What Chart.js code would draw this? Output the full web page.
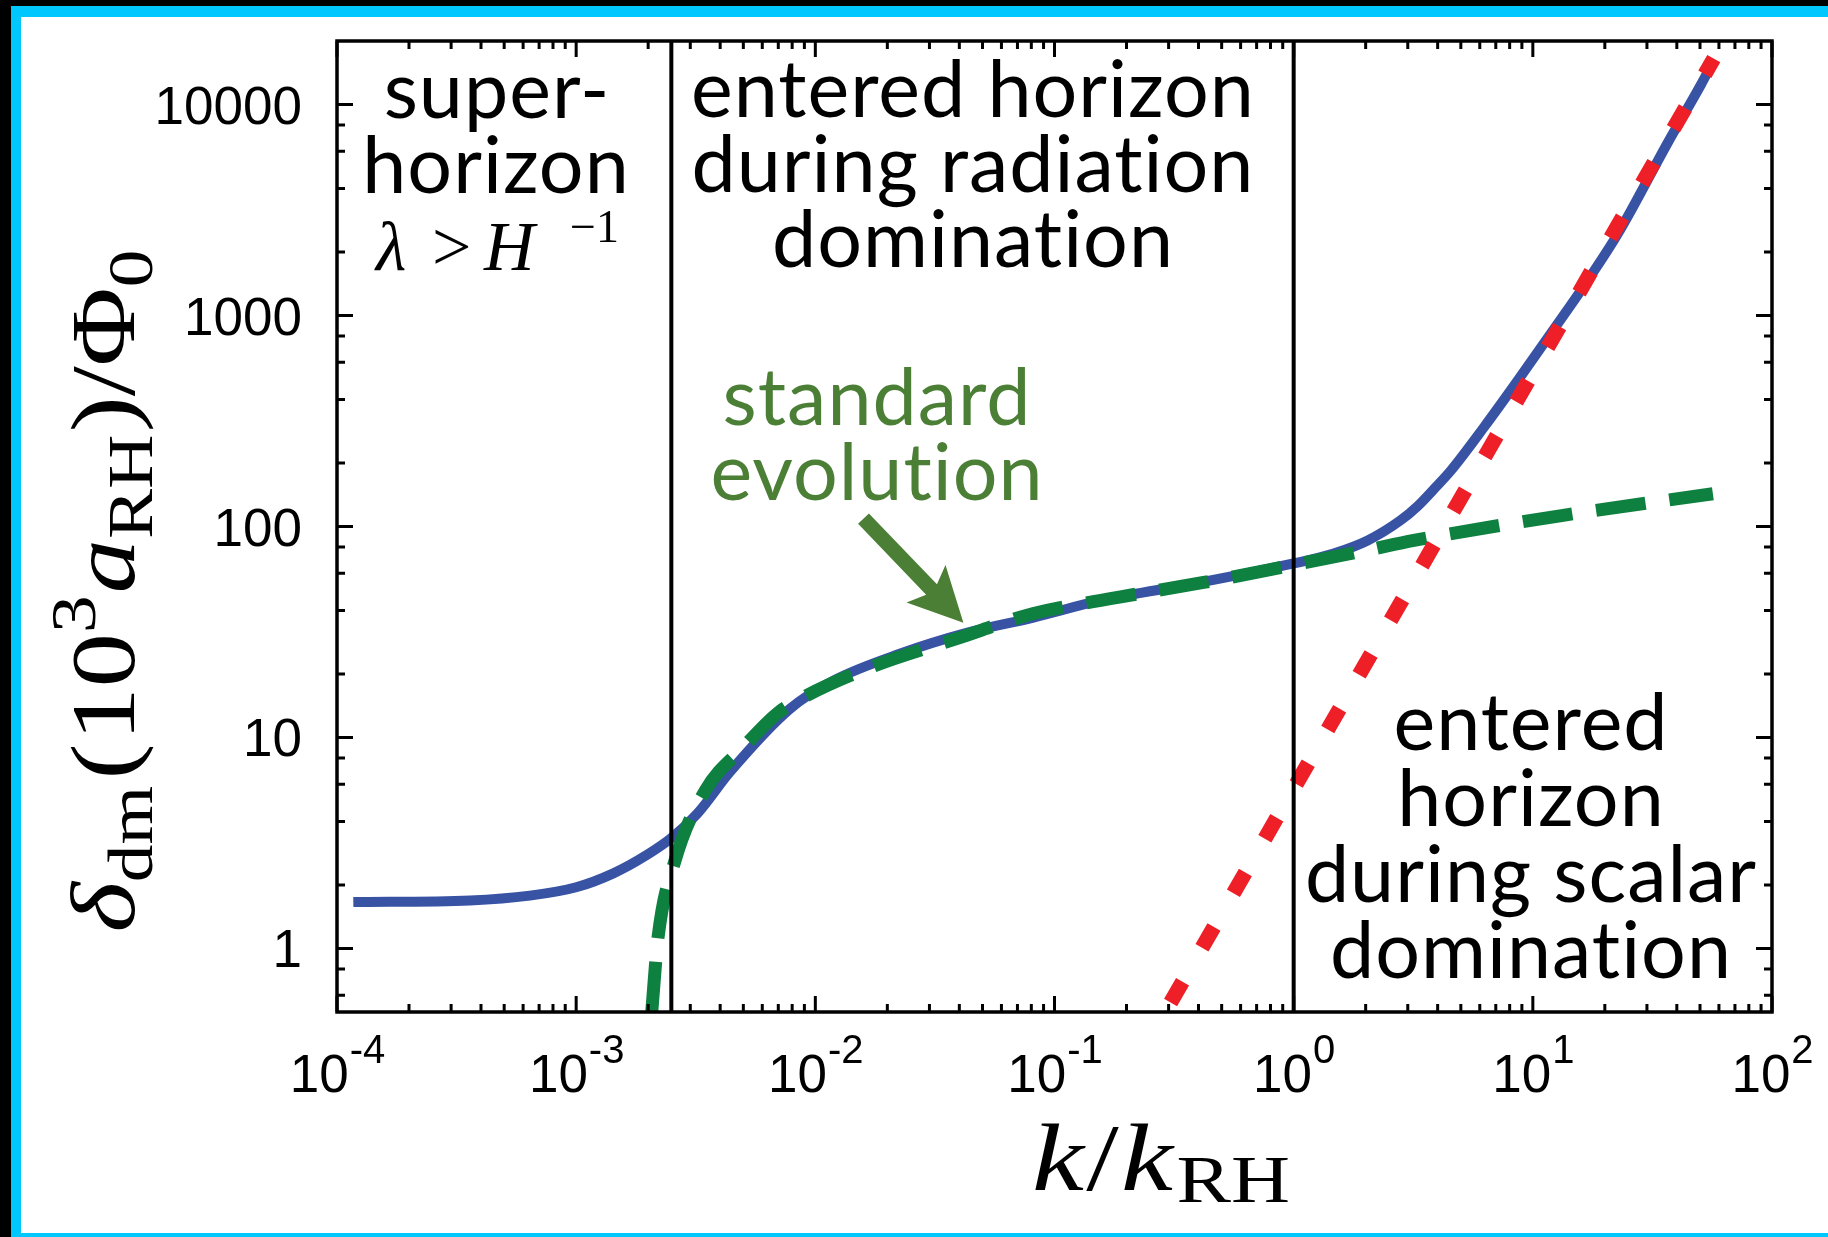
<!DOCTYPE html>
<html>
<head>
<meta charset="utf-8">
<style>
  html, body { margin: 0; padding: 0; background: #fff; overflow: hidden; }
  canvas { display: block; }
</style>
<script src="https://cdn.jsdelivr.net/npm/chart.js@4.4.1/dist/chart.umd.min.js"></script>
</head>
<body>
<canvas id="growth" width="1828" height="1237"></canvas>
<script>
// ---- data: dark-matter density contrast vs. wavenumber ----
const xRange = [1e-4, 1e2];
const yRange = [0.5, 20000];

// full evolution (solid blue)
const kFull = [1.17e-4, 3.6e-4, 6.4e-4, 1.0e-3, 1.43e-3, 1.98e-3, 2.52e-3, 3.21e-3, 4.41e-3, 7.85e-3,
  1.19e-2, 2.27e-2, 4.33e-2, 8.17e-2, 0.156, 0.408, 1.0, 1.47, 2.04, 2.80, 3.30, 3.85,
  4.54, 6.24, 8.65, 11.9, 16.3, 22.7, 36.7, 50.5, 57.1];
const deltaFull = [1.66, 1.69, 1.78, 1.95, 2.27, 2.78, 3.36, 4.36, 6.90, 13.7,
  18.6, 25.0, 31.4, 37.0, 44.6, 54.3, 66.8, 74.5, 85.9, 107, 125, 150,
  184, 295, 492, 822, 1372, 2447, 6607, 12440, 16170];

// standard evolution (green dashed)
const kStd = [2.07e-3, 2.20e-3, 2.59e-3, 3.47e-3, 5.0e-3, 6.93e-3, 8.91e-3, 1.70e-2, 3.93e-2, 8.17e-2,
  0.184, 0.42, 0.97, 2.0, 3.18, 13.4, 56.6];
const deltaStd = [0.5, 1.13, 2.61, 5.61, 8.97, 13.0, 15.5, 21.5, 29.5, 38.7,
  46.1, 54.3, 65.3, 76.9, 85.9, 113, 143];

// scalar-domination growth (red dotted, power law)
const kScalar = [0.290, 57.1];
const deltaScalar = [0.5, 16500];

// horizon-entry boundaries
const kBoundaries = [2.5e-3, 1];

// axis ticks
const xTickExponents = [-4, -3, -2, -1, 0, 1, 2];
const xMinorMultipliers = [2, 3, 4, 5, 6, 7, 8, 9];
const yTickValues = [1, 10, 100, 1000, 10000];
const yTickLabels = ['1', '10', '100', '1000', '10000'];
const yMinorMultipliers = [2, 4, 6, 8];

// arrow from the "standard evolution" label to its curve
const arrowTail = { x: 0.0159, y: 109 };
const arrowTip = { x: 0.0416, y: 35 };

const pts = (xs, ys) => xs.map((x, i) => ({ x, y: ys[i] }));

const COLORS = {
  blue: '#3953a4',
  green: '#0e803f',
  red: '#ee1f26',
  label: '#4c7f36',
  cyan: '#00c8ff'
};

const TEXT_FONT = '"Lato", "Open Sans", sans-serif';
const TICK_FONT = '"Liberation Sans", Arial, sans-serif';
const MATH_FONT = '"Liberation Serif", "DejaVu Serif", serif';

// pieces of a formula: text, italic, relative size, baseline shift (in em, + is down)
function setMathFont(ctx, p, F) {
  ctx.font = (p.it ? 'italic ' : '') + Math.round(F * (p.s || 1)) + 'px ' + MATH_FONT;
}
function mathWidth(ctx, parts, F) {
  let w = 0;
  for (const p of parts) {
    setMathFont(ctx, p, F);
    w += ctx.measureText(p.t).width + (p.gap || 0) * F;
  }
  return w;
}
function drawMath(ctx, parts, x, y, F) {
  let cx = x;
  for (const p of parts) {
    setMathFont(ctx, p, F);
    ctx.fillText(p.t, cx, y + (p.dy || 0) * F);
    cx += ctx.measureText(p.t).width + (p.gap || 0) * F;
  }
}

const pagePlugin = {
  id: 'page',
  beforeDraw(chart) {
    const { ctx, width, height } = chart;
    ctx.save();
    ctx.fillStyle = '#000';
    ctx.fillRect(0, 0, width, height);
    ctx.fillStyle = COLORS.cyan;
    ctx.fillRect(11, 6, width - 11, height - 6);
    ctx.fillStyle = '#fff';
    ctx.fillRect(21, 17, width - 21, 1233 - 17);
    ctx.restore();
  },
  afterDatasetsDraw(chart) {
    const { ctx, chartArea: a, scales: { x, y } } = chart;
    ctx.save();

    // frame
    ctx.strokeStyle = '#000';
    ctx.lineWidth = 3.5;
    ctx.strokeRect(a.left, a.top, a.right - a.left, a.bottom - a.top);

    // inward ticks on all four sides
    ctx.lineWidth = 3;
    const major = 16, minor = 8;
    const vTick = (px, len) => {
      ctx.beginPath();
      ctx.moveTo(px, a.bottom); ctx.lineTo(px, a.bottom - len);
      ctx.moveTo(px, a.top); ctx.lineTo(px, a.top + len);
      ctx.stroke();
    };
    const hTick = (py, len) => {
      ctx.beginPath();
      ctx.moveTo(a.left, py); ctx.lineTo(a.left + len, py);
      ctx.moveTo(a.right, py); ctx.lineTo(a.right - len, py);
      ctx.stroke();
    };
    xTickExponents.forEach((e, i) => {
      vTick(x.getPixelForValue(Math.pow(10, e)), major);
      if (i < xTickExponents.length - 1) {
        xMinorMultipliers.forEach(m => vTick(x.getPixelForValue(m * Math.pow(10, e)), minor));
      }
    });
    const yDecades = [-1].concat(yTickValues.map(v => Math.round(Math.log10(v))));
    yDecades.forEach(e => {
      const v = Math.pow(10, e);
      if (v >= yRange[0] && v <= yRange[1]) hTick(y.getPixelForValue(v), major);
      yMinorMultipliers.forEach(m => {
        const mv = m * v;
        if (mv > yRange[0] && mv < yRange[1]) hTick(y.getPixelForValue(mv), minor);
      });
    });

    // tick labels
    ctx.fillStyle = '#000';
    ctx.textBaseline = 'alphabetic';
    ctx.textAlign = 'left';
    xTickExponents.forEach(e => {
      const px = x.getPixelForValue(Math.pow(10, e));
      ctx.font = '53px ' + TICK_FONT;
      const wb = ctx.measureText('10').width;
      ctx.font = '40px ' + TICK_FONT;
      const es = String(e);
      const we = ctx.measureText(es).width;
      const x0 = px - (wb + we) / 2;
      ctx.font = '53px ' + TICK_FONT;
      ctx.fillText('10', x0, a.bottom + 80);
      ctx.font = '40px ' + TICK_FONT;
      ctx.fillText(es, x0 + wb + 1, a.bottom + 51);
    });
    ctx.textAlign = 'right';
    ctx.font = '53px ' + TICK_FONT;
    yTickValues.forEach((v, i) => {
      ctx.fillText(yTickLabels[i], a.left - 35, y.getPixelForValue(v) + 19);
    });

    // axis titles (serif math, widened to the span of the original typesetting)
    ctx.textAlign = 'left';
    const xTitle = [
      { t: 'k', it: true, gap: 0.02 }, { t: '/', gap: 0.02 }, { t: 'k', it: true, gap: 0.03 },
      { t: 'RH', s: 0.7, dy: 0.13 }
    ];
    const FX = 96;
    const wx = mathWidth(ctx, xTitle, FX);
    ctx.save();
    ctx.translate(1032, 1190);
    ctx.scale(258 / wx, 1);
    drawMath(ctx, xTitle, 0, 0, FX);
    ctx.restore();

    const yTitle = [
      { t: 'δ', it: true }, { t: 'dm', s: 0.7, dy: 0.2, gap: 0.06 },
      { t: '(', gap: 0.02 }, { t: '10' }, { t: '3', s: 0.7, dy: -0.42, gap: 0.02 },
      { t: 'a', it: true }, { t: 'RH', s: 0.7, dy: 0.2, gap: 0.02 },
      { t: ')' }, { t: '/' }, { t: 'Φ' }, { t: '0', s: 0.7, dy: 0.2 }
    ];
    const FY = 92;
    const wy = mathWidth(ctx, yTitle, FY);
    ctx.save();
    ctx.translate(134, 591);
    ctx.rotate(-Math.PI / 2);
    ctx.scale(683 / wy, 1);
    drawMath(ctx, yTitle, -wy / 2, 0, FY);
    ctx.restore();

    // region annotations
    ctx.textAlign = 'center';
    ctx.fillStyle = '#000';
    ctx.letterSpacing = '1px';
    ctx.font = '79px ' + TEXT_FONT;
    ctx.fillText('super-', 497, 118);
    ctx.fillText('horizon', 496, 193);
    ctx.fillText('entered horizon', 973, 117);
    ctx.fillText('during radiation', 973, 192);
    ctx.fillText('domination', 973, 267);
    ctx.fillText('entered', 1531, 750);
    ctx.fillText('horizon', 1531, 826);
    ctx.fillText('during scalar', 1531, 902);
    ctx.fillText('domination', 1531, 978);
    ctx.letterSpacing = '0px';

    // λ > H^-1
    ctx.textAlign = 'left';
    ctx.font = 'italic 70px ' + MATH_FONT;
    ctx.fillText('λ', 376, 270);
    ctx.font = '70px ' + MATH_FONT;
    ctx.fillText('>', 432, 270);
    ctx.font = 'italic 70px ' + MATH_FONT;
    ctx.fillText('H', 484, 270);
    ctx.font = '46px ' + MATH_FONT;
    ctx.fillText('\u22121', 570, 242);

    // standard evolution label + arrow
    ctx.textAlign = 'center';
    ctx.fillStyle = COLORS.label;
    ctx.letterSpacing = '1px';
    ctx.font = '79px ' + TEXT_FONT;
    ctx.fillText('standard', 877, 425);
    ctx.fillText('evolution', 877, 500);
    ctx.letterSpacing = '0px';

    const tx = x.getPixelForValue(arrowTail.x), ty = y.getPixelForValue(arrowTail.y);
    const hx = x.getPixelForValue(arrowTip.x), hy = y.getPixelForValue(arrowTip.y);
    const len = Math.hypot(hx - tx, hy - ty);
    const ux = (hx - tx) / len, uy = (hy - ty) / len;
    const nx = -uy, ny = ux;
    const headLen = 54, headHalf = 27, notch = 44, shaft = 7.5;
    const bx = hx - ux * headLen, by = hy - uy * headLen;
    const kx = hx - ux * notch, ky = hy - uy * notch;
    ctx.fillStyle = COLORS.label;
    ctx.beginPath();
    ctx.moveTo(tx + nx * shaft, ty + ny * shaft);
    ctx.lineTo(kx + nx * shaft - ux * 2, ky + ny * shaft - uy * 2);
    ctx.lineTo(bx + nx * headHalf, by + ny * headHalf);
    ctx.lineTo(hx, hy);
    ctx.lineTo(bx - nx * headHalf, by - ny * headHalf);
    ctx.lineTo(kx - nx * shaft - ux * 2, ky - ny * shaft - uy * 2);
    ctx.lineTo(tx - nx * shaft, ty - ny * shaft);
    ctx.closePath();
    ctx.fill();

    ctx.restore();
  }
};

new Chart(document.getElementById('growth'), {
  type: 'scatter',
  data: {
    datasets: [
      {
        label: 'k = 2.5e-3',
        data: pts([kBoundaries[0], kBoundaries[0]], yRange),
        borderColor: '#000', borderWidth: 4, showLine: true, pointRadius: 0, order: 0, clip: 0
      },
      {
        label: 'k = 1',
        data: pts([kBoundaries[1], kBoundaries[1]], yRange),
        borderColor: '#000', borderWidth: 4, showLine: true, pointRadius: 0, order: 0, clip: 0
      },
      {
        label: 'scalar domination',
        data: pts(kScalar, deltaScalar),
        borderColor: COLORS.red, borderWidth: 15, borderDash: [24, 39], borderDashOffset: 52,
        showLine: true, pointRadius: 0, order: 1, clip: 0
      },
      {
        label: 'standard evolution',
        data: pts(kStd, deltaStd),
        borderColor: COLORS.green, borderWidth: 13, borderDash: [50, 24],
        showLine: true, pointRadius: 0, cubicInterpolationMode: 'monotone', order: 2, clip: 0
      },
      {
        label: 'full evolution',
        data: pts(kFull, deltaFull),
        borderColor: COLORS.blue, borderWidth: 10,
        showLine: true, pointRadius: 0, cubicInterpolationMode: 'monotone', order: 3, clip: 0
      }
    ]
  },
  options: {
    responsive: false,
    animation: false,
    devicePixelRatio: 1,
    layout: { padding: { left: 337, top: 41, right: 56, bottom: 225 } },
    plugins: { legend: { display: false }, tooltip: { enabled: false } },
    scales: {
      x: { type: 'logarithmic', min: xRange[0], max: xRange[1], display: false },
      y: { type: 'logarithmic', min: yRange[0], max: yRange[1], display: false }
    }
  },
  plugins: [pagePlugin]
});
</script>
</body>
</html>
